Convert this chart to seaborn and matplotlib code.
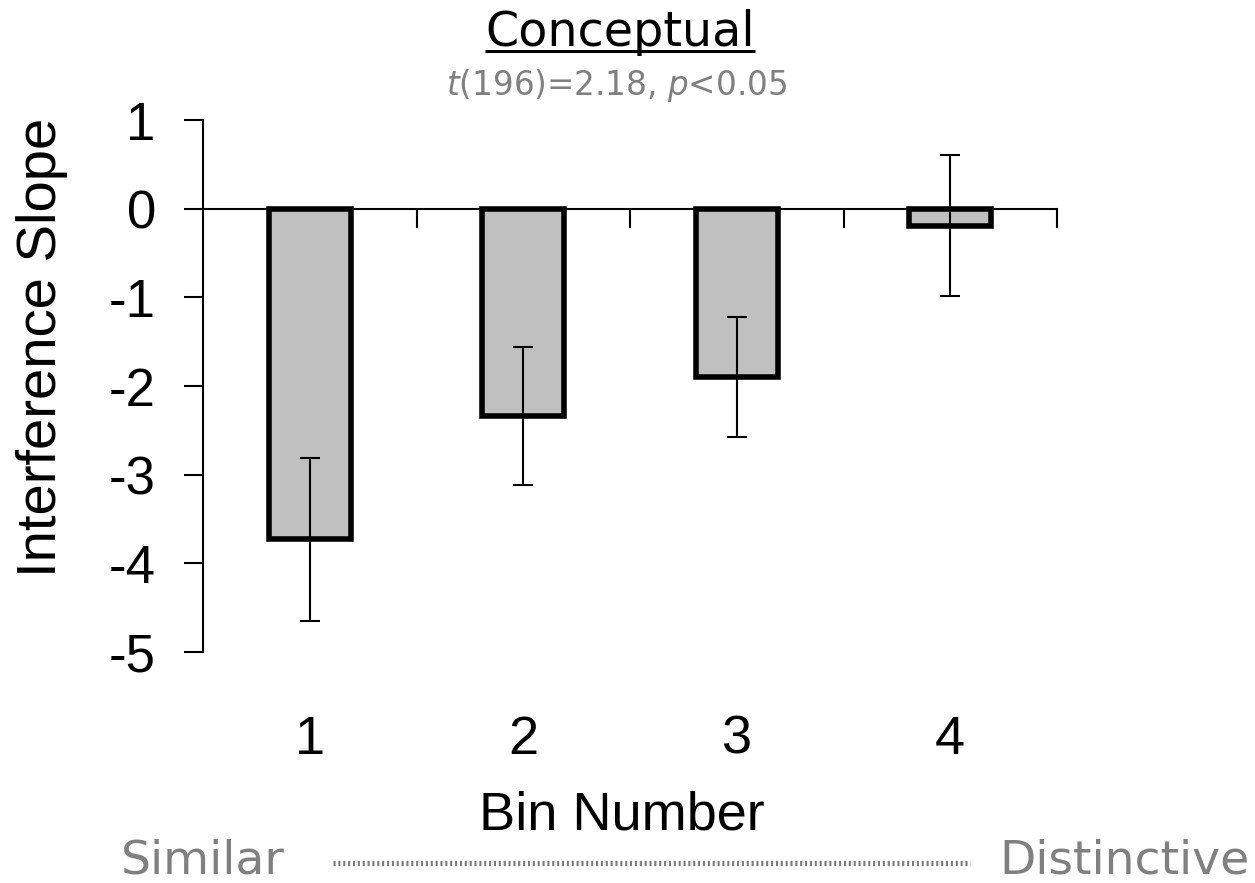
import matplotlib
matplotlib.use("Agg")
import matplotlib.pyplot as plt
from matplotlib.lines import Line2D
from matplotlib.transforms import blended_transform_factory
import seaborn as sns
import pandas as pd

# Mean interference slope per similarity bin, with standard errors
bins = ["1", "2", "3", "4"]
slopes = [-3.73, -2.34, -1.90, -0.19]
errors = [0.92, 0.78, 0.68, 0.80]
yticks = [1, 0, -1, -2, -3, -4, -5]

title = "Conceptual"
stats_text = r"$\it{t}$(196)=2.18, $\it{p}$<0.05"
xlabel = "Bin Number"
ylabel = "Interference Slope"
left_anchor = "Similar"
right_anchor = "Distinctive"

sns.set_theme(style="white")
plt.rcParams["font.family"] = ["Liberation Sans", "DejaVu Sans"]
plt.rcParams["mathtext.fontset"] = "custom"
plt.rcParams["mathtext.it"] = "DejaVu Sans:italic"
plt.rcParams["mathtext.rm"] = "DejaVu Sans"
plt.rcParams["lines.scale_dashes"] = False
plt.rcParams["text.color"] = "black"
plt.rcParams["axes.labelcolor"] = "black"
plt.rcParams["xtick.color"] = "black"
plt.rcParams["ytick.color"] = "black"

W, H = 1255, 883
fig = plt.figure(figsize=(W / 100, H / 100), dpi=100)
ax = fig.add_axes([203 / W, 1 - 652 / H, 854 / W, 532 / H])

df = pd.DataFrame({"bin": bins, "slope": slopes})
sns.barplot(data=df, x="bin", y="slope", color="#c0c0c0", saturation=1,
            width=0.385, edgecolor="black", linewidth=4.0, errorbar=None,
            ax=ax, zorder=2)
ax.errorbar(range(len(bins)), slopes, yerr=errors, fmt="none",
            ecolor="black", elinewidth=1.5, capsize=7.2, capthick=1.5,
            zorder=3)

ax.set_xlim(-0.5, len(bins) - 0.5)
ax.set_ylim(-5, 1)
ax.set_yticks(yticks)
ax.set_yticklabels([str(v) for v in yticks], fontsize=38, color="black")
ax.set_xticks([i + 0.5 for i in range(len(bins))])
ax.set_xticklabels([])
ax.tick_params(axis="both", direction="out", length=14, width=1.5,
               color="black", left=True, bottom=True)
ax.tick_params(axis="y", pad=20)
for side in ("top", "right"):
    ax.spines[side].set_visible(False)
ax.spines["bottom"].set_position(("data", 0))
for side in ("left", "bottom"):
    ax.spines[side].set_color("black")
    ax.spines[side].set_linewidth(1.5)
ax.set_xlabel("")
ax.set_ylabel(ylabel, fontsize=40.5, color="black")
ax.yaxis.set_label_coords(-0.158, 0.573)

# Category labels sit well below the plotting area
trans = blended_transform_factory(ax.transData, ax.transAxes)
for i, b in enumerate(bins):
    ax.text(i, -0.165, b, transform=trans, ha="center", va="center",
            fontsize=39, color="black")

fig.text(622 / W, 1 - 816 / H, xlabel, ha="center", va="center",
         fontsize=39, color="black")

# Title with underline and the test statistic beneath it
t = fig.text(620 / W, 1 - 33 / H, title, ha="center", va="center",
             fontsize=34.3, family="DejaVu Sans", color="black")
fig.text(617 / W, 1 - 86 / H, stats_text, ha="center", va="center",
         fontsize=23.5, family="DejaVu Sans", color="#808080")

fig.canvas.draw()
bb = t.get_window_extent()
uy = 1 - 51 / H
fig.add_artist(Line2D([bb.x0 / W, bb.x1 / W], [uy, uy], transform=fig.transFigure,
                      color="black", lw=2.2, solid_capstyle="butt"))

# Similar ... Distinctive continuum under the axis
fig.text(203 / W, 1 - 861 / H, left_anchor, ha="center", va="center",
         fontsize=34, family="DejaVu Sans", color="#808080")
fig.text(1125 / W, 1 - 861 / H, right_anchor, ha="center", va="center",
         fontsize=34, family="DejaVu Sans", color="#808080")
ly = 1 - 863 / H
fig.add_artist(Line2D([333 / W, 970 / W], [ly, ly], transform=fig.transFigure,
                      color="#7a7a7a", lw=3.8, linestyle=(0, (1.5, 2.0)),
                      solid_capstyle="butt", dash_capstyle="butt"))

fig.savefig("out.png", dpi=100)
